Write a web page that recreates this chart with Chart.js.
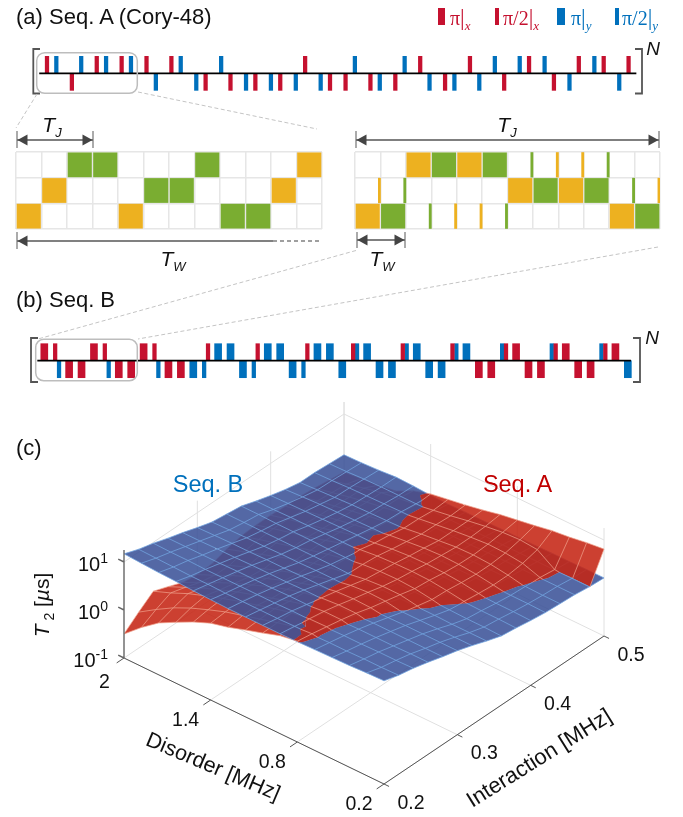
<!DOCTYPE html>
<html>
<head>
<meta charset="utf-8">
<script src="https://cdn.jsdelivr.net/npm/chart.js@4"></script>
<style>
html, body { margin: 0; padding: 0; background: #fff; }
#page { position: relative; width: 683px; height: 817px; overflow: hidden; font-family: "Liberation Sans", Arial, sans-serif; color: #111; }
#page canvas { position: absolute; }
#page svg { position: absolute; left: 0; top: 0; }
.lbl { position: absolute; white-space: nowrap; line-height: 1; }
.lbl sub, .lbl sup { line-height: 0; }
.sw { position: absolute; }
</style>
</head>
<body>
<div id="page">
  <canvas id="seq-a" width="683" height="47" style="left:0;top:50px"></canvas>
  <canvas id="grid-left" width="308" height="79" style="left:15px;top:151px"></canvas>
  <canvas id="grid-right" width="307" height="79" style="left:354px;top:151px"></canvas>
  <canvas id="seq-b" width="683" height="50" style="left:0;top:336px"></canvas>
  <canvas id="surface" width="683" height="417" style="left:0;top:400px"></canvas>
  <svg id="notes" width="683" height="817"></svg>
</div>
<script>
// pulse sequence A, time in units of tau/3
const seqATimes = [0,3,8,11,16,19,24,27,32,35,40,43,48,51,56,59,64,67,72,75,80,83,88,91,96,99,104,107,112,115,120,123,128,131,136,139,144,147,152,155,160,163,168,171,176,179,184,187]
const seqAAxes = 'xyxyxyxyxyxyyxyxyxyxyxyxxyxyxyxyxyxyyxyxyxyxyxyx'.split('')
const seqASigns = [1,1,-1,1,1,1,1,1,1,-1,1,1,-1,-1,1,-1,-1,-1,-1,-1,-1,1,-1,-1,-1,1,-1,-1,-1,1,1,-1,-1,-1,1,-1,1,-1,1,1,1,-1,-1,1,1,1,-1,1]

// pulse sequence B
const seqBTimes = [0,3.5,4.75,8,12,16,19.5,20.75,24,28,32,35.5,36.75,40,44,48,51.5,52.75,56,60,64,67.5,68.75,72,76,80,83.5,84.75,88,92,96,99.5,100.75,104,108,112,115.5,116.75,120,124,128,131.5,132.75,136,140,144,147.5,148.75,152,156,160,163.5,164.75,168,172,176,179.5,180.75,184,188]
const seqBAxes = ['xxyxx','xxyxx','xxyxx','yyxyy','yyxyy','yyxyy','yxyyy','yxyyy','yxyyx','xyxxx','xyxxx','xyxxy'].join('').split('')
const seqBSigns = [1,1,-1,-1,-1,1,1,-1,-1,-1,1,1,-1,-1,-1,-1,-1,1,1,1,-1,-1,1,1,1,-1,-1,1,1,1,-1,1,1,1,-1,-1,1,1,1,-1,-1,1,1,1,-1,-1,1,1,1,-1,-1,1,1,1,-1,-1,1,1,1,-1]
const seqBAngles = [180,90,90,180,180,180,90,90,180,180,180,90,90,180,180,180,90,90,180,180,180,90,90,180,180,180,90,90,180,180,180,90,90,180,180,180,90,90,180,180,180,90,90,180,180,180,90,90,180,180,180,90,90,180,180,180,90,90,180,180]

// toggling frames, [column, row]
const leftOrange = [[0,2],[1,1],[4,2],[10,1],[11,0]]
const leftGreen = [[2,0],[3,0],[5,1],[6,1],[7,0],[8,2],[9,2]]
const rightOrange = [[2,0],[4,0],[6,1],[8,1],[0,2],[10,2]]
const rightGreen = [[3,0],[5,0],[7,1],[9,1],[1,2],[11,2]]
const rightThinOrange = [[8,0],[9,0],[1,1],[12,1],[4,2],[5,2]]
const rightThinGreen = [[7,0],[10,0],[2,1],[11,1],[3,2],[6,2]]

// surface axes
const disorderGrid = [2,1.88,1.76,1.64,1.52,1.4,1.28,1.16,1.04,0.92,0.8,0.68,0.56,0.44,0.32,0.2]
const interactionGrid = [0.2,0.22,0.24,0.26,0.28,0.3,0.32,0.34,0.36,0.38,0.4,0.42,0.44,0.46,0.48,0.5]
const disorderTicks = [2,1.4,0.8,0.2]
const interactionTicks = [0.2,0.3,0.4,0.5]
const t2Ticks = [-1,0,1]

// log10(T2) for seq B, one row per interaction value, one column per disorder value
const seqBLog = [
  [1.17,1.15,1.13,1.12,1.10,1.09,1.08,1.08,1.08,1.08,1.09,1.10,1.11,1.12,1.14,1.15],
  [1.06,1.05,1.04,1.03,1.03,1.02,1.02,1.02,1.02,1.03,1.03,1.04,1.04,1.05,1.05,1.06],
  [.98,.97,.97,.96,.96,.96,.96,.96,.97,.97,.97,.98,.98,.99,.99,1.00],
  [.88,.88,.88,.88,.89,.89,.89,.90,.90,.90,.90,.91,.91,.91,.92,.92],
  [.79,.79,.80,.80,.81,.81,.81,.82,.82,.82,.82,.83,.83,.83,.83,.83],
  [.69,.70,.71,.71,.72,.72,.73,.73,.73,.74,.74,.74,.75,.75,.75,.75],
  [.60,.61,.62,.62,.63,.63,.64,.64,.64,.65,.65,.65,.65,.65,.65,.65],
  [.56,.56,.56,.56,.56,.56,.56,.55,.55,.55,.55,.55,.55,.54,.54,.54],
  [.52,.52,.51,.51,.51,.50,.50,.50,.49,.49,.48,.47,.46,.45,.45,.44],
  [.42,.42,.43,.43,.44,.44,.44,.44,.44,.44,.43,.43,.42,.41,.41,.40],
  [.33,.34,.35,.36,.37,.38,.38,.38,.38,.38,.38,.37,.37,.36,.36,.35],
  [.25,.27,.29,.30,.31,.32,.33,.33,.33,.33,.33,.33,.33,.32,.32,.31],
  [.19,.21,.23,.25,.26,.27,.28,.28,.29,.29,.29,.29,.30,.30,.29,.29],
  [.19,.20,.22,.23,.24,.25,.25,.26,.26,.26,.27,.27,.27,.27,.27,.27],
  [.17,.18,.20,.21,.21,.21,.22,.22,.22,.23,.23,.23,.23,.23,.23,.23],
  [.15,.16,.18,.21,.20,.18,.17,.18,.18,.19,.19,.19,.20,.20,.21,.21]
]
// log10(T2) for seq A, rows stop where the surface stops
const seqALog = [
  [-.50,-.19,.08,.27,.45,.60,.69,.81,.92,1.04,1.10,1.00,.95],
  [-.25,-.02,.19,.36,.50,.63,.73,.83,.93,1.02,1.05,1.00,.95],
  [-.02,.12,.28,.41,.53,.64,.74,.84,.93,.98,.99,.93,.88],
  [-.13,.03,.19,.33,.46,.57,.68,.79,.89,.93,.93,.86,.80],
  [-.25,-.07,.10,.26,.40,.54,.66,.76,.83,.86,.86,.79,.74],
  [-.29,-.13,.04,.19,.33,.46,.58,.69,.76,.78,.77,.72,.66],
  [-.27,-.13,.01,.15,.28,.40,.51,.61,.68,.71,.70,.64,.58],
  [-.17,-.05,.07,.19,.31,.41,.49,.54,.60,.63,.63,.57,.47,.40],
  [-.10,.00,.10,.20,.30,.39,.47,.53,.56,.57,.55,.50,.43,.36],
  [-.08,.02,.11,.20,.30,.41,.46,.50,.52,.53,.52,.48,.43,.36,.32],
  [-.08,.01,.09,.17,.27,.36,.39,.44,.47,.48,.47,.44,.39,.33,.28],
  [-.10,-.01,.07,.14,.21,.28,.35,.39,.43,.45,.44,.41,.36,.30,.25],
  [-.10,-.02,.05,.12,.18,.24,.29,.34,.38,.42,.43,.41,.36,.29,.24],
  [-.13,-.05,.03,.10,.16,.23,.28,.33,.38,.42,.45,.44,.40,.28,.22],
  [-.17,-.08,.01,.09,.15,.19,.25,.31,.38,.44,.49,.51,.48,.24,.20,.20],
  [-.21,-.17,-.13,-.08,.10,.21,.27,.33,.40,.48,.54,.60,.67,.71,.77,.81]
]

const RED = '#C5112F'
const BLUE = '#0070BC'
const GREEN = '#7AAD31'
const ORANGE = '#EDB120'

function pulseData(times, axes, signs, axis, angles, angle) {
    const out = []
    times.forEach((t, i) => {
        if (axes[i] === axis && (!angles || angles[i] === angle)) out.push({ x: t, y: signs[i] })
    })
    return out
}

function pulseChart(id, sets, xMin, xMax, yMin, yMax, lineFrom, lineTo) {
    const datasets = sets.map(s => ({
        type: 'bar', label: s.label, data: s.data, backgroundColor: s.color,
        barThickness: s.width, grouped: false, order: 1
    }))
    datasets.push({
        type: 'line', label: 'time', data: [{ x: lineFrom, y: 0 }, { x: lineTo, y: 0 }],
        borderColor: '#000', borderWidth: 1.8, pointRadius: 0, order: 0
    })
    return new Chart(document.getElementById(id), {
        type: 'bar',
        data: { datasets },
        options: {
            responsive: false, animation: false, events: [],
            layout: { padding: 0 },
            plugins: { legend: { display: false }, tooltip: { enabled: false } },
            scales: {
                x: { type: 'linear', display: false, min: xMin, max: xMax, offset: false, grid: { offset: false } },
                y: { type: 'linear', display: false, min: yMin, max: yMax }
            }
        }
    })
}

pulseChart('seq-a', [
    { label: 'π/2|x', color: RED, width: 3.6, data: pulseData(seqATimes, seqAAxes, seqASigns, 'x') },
    { label: 'π/2|y', color: BLUE, width: 3.6, data: pulseData(seqATimes, seqAAxes, seqASigns, 'y') }
], -15.11, 204.5, -1.39, 1.37, -2.5, 189.5)

pulseChart('seq-b', [
    { label: 'π|x', color: RED, width: 7, data: pulseData(seqBTimes, seqBAxes, seqBSigns, 'x', seqBAngles, 180) },
    { label: 'π/2|x', color: RED, width: 3.6, data: pulseData(seqBTimes, seqBAxes, seqBSigns, 'x', seqBAngles, 90) },
    { label: 'π|y', color: BLUE, width: 7, data: pulseData(seqBTimes, seqBAxes, seqBSigns, 'y', seqBAngles, 180) },
    { label: 'π/2|y', color: BLUE, width: 3.6, data: pulseData(seqBTimes, seqBAxes, seqBSigns, 'y', seqBAngles, 90) }
], -14.27, 205.77, -1.488, 1.453, -2.25, 189)

function cellData(cells) {
    return cells.map(c => ({ x: c[0] + 0.5, y: [c[1] + 0.03, c[1] + 0.97] }))
}
function thinData(cells) {
    return cells.map(c => ({ x: c[0] - 0.04, y: [c[1] + 0.02, c[1] + 0.98] }))
}

function gridChart(id, orange, green, thinOrange, thinGreen) {
    const sets = [
        { label: 'orange', data: cellData(orange), backgroundColor: ORANGE, barThickness: 23.5, grouped: false },
        { label: 'green', data: cellData(green), backgroundColor: GREEN, barThickness: 23.5, grouped: false }
    ]
    if (thinOrange) {
        sets.push({ label: 'orange short', data: thinData(thinOrange), backgroundColor: ORANGE, barThickness: 2.2, grouped: false })
        sets.push({ label: 'green short', data: thinData(thinGreen), backgroundColor: GREEN, barThickness: 2.2, grouped: false })
    }
    const hiddenAxis = { display: true, ticks: { display: false, stepSize: 1 }, border: { display: false } }
    return new Chart(document.getElementById(id), {
        type: 'bar',
        data: { datasets: sets },
        options: {
            responsive: false, animation: false, events: [],
            layout: { padding: 1 },
            plugins: { legend: { display: false }, tooltip: { enabled: false } },
            scales: {
                x: { ...hiddenAxis, type: 'linear', min: 0, max: 12, offset: false, grid: { offset: false, color: '#E6E6E6', lineWidth: 1.5, drawTicks: false } },
                y: { ...hiddenAxis, type: 'linear', min: 0, max: 3, reverse: true, grid: { color: '#E6E6E6', lineWidth: 1.5, drawTicks: false } }
            }
        }
    })
}
gridChart('grid-left', leftOrange, leftGreen)
gridChart('grid-right', rightOrange, rightGreen, rightThinOrange, rightThinGreen)

// ---------- 3D surface, projected into a flat scatter chart ----------
const Z_TOP = 1.25
function proj(d, i, z) {
    const u = (2 - d) / 1.8
    const v = (i - 0.2) / 0.3
    return { x: 124 + 260 * u + 220 * v, y: 658 + 126 * u - 148 * v - 48 * (z + 1) }
}

function vertex(j, k) {
    const a = seqALog[k][j]
    return { d: disorderGrid[j], i: interactionGrid[k], a: a === undefined ? null : a, b: seqBLog[k][j] }
}
function mix(p, q, t) {
    return { d: p.d + (q.d - p.d) * t, i: p.i + (q.i - p.i) * t, a: p.a + (q.a - p.a) * t, b: p.b + (q.b - p.b) * t }
}
// keep the part of a polygon where seq A is above (sign 1) or below (sign -1) seq B
function clip(poly, sign) {
    const out = []
    poly.forEach((p, n) => {
        const q = poly[(n + 1) % poly.length]
        const sp = (p.a - p.b) * sign
        const sq = (q.a - q.b) * sign
        if (sp >= 0) out.push(p)
        if ((sp > 0 && sq < 0) || (sp < 0 && sq > 0)) out.push(mix(p, q, sp / (sp - sq)))
    })
    return out
}
function flat(poly, key) {
    let pts = poly.map(p => proj(p.d, p.i, p[key]))
    let area = 0
    pts.forEach((p, n) => {
        const q = pts[(n + 1) % pts.length]
        area += p.x * q.y - q.x * p.y
    })
    if (area < 0) pts = pts.reverse()
    return pts
}

const polys = { upA: [], upB: [], lowA: [], lowB: [] }
const mesh = { upA: [], upB: [], lowA: [], lowB: [] }
const firstUp = seqALog.map((row, k) => row.findIndex((a, j) => a > seqBLog[k][j]))

function addSegment(list, p, q, key) {
    const s = proj(p.d, p.i, p[key])
    const e = proj(q.d, q.i, q[key])
    list.push(s, e, { x: NaN, y: NaN })
}
function addEdge(p, q, lowAOk) {
    if (p.a === null || q.a === null) {
        addSegment(mesh.upB, p, q, 'b')
        return
    }
    const sp = p.a - p.b
    const sq = q.a - q.b
    let parts = [[p, q]]
    if (sp * sq < 0) {
        const c = mix(p, q, sp / (sp - sq))
        parts = [[p, c], [c, q]]
    }
    parts.forEach(([m, n]) => {
        const above = (m.a - m.b) + (n.a - n.b) > 0
        if (above) {
            addSegment(mesh.upA, m, n, 'a')
            addSegment(mesh.lowB, m, n, 'b')
        } else {
            addSegment(mesh.upB, m, n, 'b')
            if (lowAOk) addSegment(mesh.lowA, m, n, 'a')
        }
    })
}

for (let k = 0; k < interactionGrid.length; k++) {
    for (let j = 0; j < disorderGrid.length; j++) {
        const v00 = vertex(j, k)
        if (j + 1 < disorderGrid.length) addEdge(v00, vertex(j + 1, k), j < firstUp[k])
        if (k + 1 < interactionGrid.length) addEdge(v00, vertex(j, k + 1), j <= Math.max(firstUp[k], firstUp[k + 1]))
        if (j + 1 === disorderGrid.length || k + 1 === interactionGrid.length) continue

        const v10 = vertex(j + 1, k)
        const v11 = vertex(j + 1, k + 1)
        const v01 = vertex(j, k + 1)
        if ([v00, v10, v11, v01].some(p => p.a === null)) {
            polys.upB.push(flat([v00, v10, v11, v01], 'b'))
            continue
        }
        const lowAOk = j < Math.max(firstUp[k], firstUp[k + 1])
        ;[[v00, v10, v11], [v00, v11, v01]].forEach(tri => {
            const over = clip(tri, 1)
            const under = clip(tri, -1)
            if (over.length > 2) {
                polys.upA.push(flat(over, 'a'))
                polys.lowB.push(flat(over, 'b'))
            }
            if (under.length > 2) {
                polys.upB.push(flat(under, 'b'))
                if (lowAOk) polys.lowA.push(flat(under, 'a'))
            }
        })
    }
}

// all polygons of one surface go in one closed path, so the fill has no seams
function chain(list) {
    const out = []
    list.forEach(poly => {
        poly.forEach(p => out.push(p))
        out.push(poly[0])
    })
    for (let n = list.length - 2; n >= 0; n--) out.push(list[n][0])
    return out
}

function fillSet(label, pts, color) {
    return { label, data: pts, showLine: true, fill: 'shape', backgroundColor: color, borderWidth: 0, pointRadius: 0 }
}
function lineSet(label, pts, color, width) {
    return { label, data: pts, showLine: true, fill: false, borderColor: color, borderWidth: width, pointRadius: 0, spanGaps: false }
}

function boxLines() {
    const back = []
    const seg = (a, b) => back.push(proj(...a), proj(...b), { x: NaN, y: NaN })
    disorderTicks.forEach(d => {
        seg([d, 0.2, -1], [d, 0.5, -1])
        seg([d, 0.5, -1], [d, 0.5, Z_TOP])
    })
    interactionTicks.forEach(i => {
        seg([2, i, -1], [0.2, i, -1])
        if (i > 0.2) seg([2, i, -1], [2, i, Z_TOP])
    })
    seg([2, 0.2, 1], [2, 0.5, 1])
    seg([2, 0.5, 1], [0.2, 0.5, 1])
    return back
}
function axisLines() {
    const ax = []
    const seg = (a, b) => ax.push(proj(...a), proj(...b), { x: NaN, y: NaN })
    seg([2, 0.2, -1], [0.2, 0.2, -1])
    seg([0.2, 0.2, -1], [0.2, 0.5, -1])
    disorderTicks.forEach(d => seg([d, 0.2, -1], [d, 0.19, -1]))
    interactionTicks.forEach(i => seg([0.2, i, -1], [0.165, i, -1]))
    return ax
}
function zAxisLine() {
    const ax = [proj(2, 0.2, -1), proj(2, 0.2, Z_TOP), { x: NaN, y: NaN }]
    t2Ticks.forEach(z => ax.push(proj(2, 0.2, z), proj(2.04, 0.2, z), { x: NaN, y: NaN }))
    return ax
}

const SURF_A = 'rgba(197,38,20,0.88)'
const SURF_B = 'rgba(60,83,153,0.88)'
const MESH_A = 'rgba(240,160,140,0.8)'
const MESH_B = 'rgba(115,165,225,0.85)'

// painted in this order, the chart paints its datasets last to first
const paintOrder = [
    lineSet('box', boxLines(), '#E0E0E0', 1),
    fillSet('seq B lower', chain(polys.lowB), SURF_B),
    fillSet('seq A lower', chain(polys.lowA), SURF_A),
    lineSet('seq B lower mesh', mesh.lowB, MESH_B, 0.9),
    lineSet('seq A lower mesh', mesh.lowA, MESH_A, 0.9),
    fillSet('seq B upper', chain(polys.upB), SURF_B),
    fillSet('seq A upper', chain(polys.upA), SURF_A),
    lineSet('seq B upper mesh', mesh.upB, MESH_B, 0.9),
    lineSet('seq A upper mesh', mesh.upA, MESH_A, 0.9),
    lineSet('floor axes', axisLines(), '#555', 1),
    lineSet('T2 axis', zAxisLine(), '#666', 1.4)
]

const surfaceChart = new Chart(document.getElementById('surface'), {
    type: 'scatter',
    data: { datasets: paintOrder.slice().reverse() },
    options: {
        responsive: false, animation: false, events: [],
        layout: { padding: 0 },
        plugins: { legend: { display: false }, tooltip: { enabled: false } },
        scales: {
            x: { type: 'linear', display: false, min: 0, max: 683 },
            y: { type: 'linear', display: false, min: 400, max: 817, reverse: true }
        }
    }
})

// ---------- text ----------
const page = document.getElementById('page')
function label(html, x, y, o) {
    o = o || {}
    const el = document.createElement('div')
    el.className = 'lbl'
    el.innerHTML = html
    el.style.left = x + 'px'
    el.style.top = y + 'px'
    el.style.fontSize = (o.size || 20) + 'px'
    if (o.color) el.style.color = o.color
    if (o.font) el.style.fontFamily = o.font
    const ax = o.anchor === 'left' ? '0' : (o.anchor === 'right' ? '-100%' : '-50%')
    el.style.transform = 'translate(' + ax + ',-50%)' + (o.rot ? ' rotate(' + o.rot + 'deg)' : '')
    page.appendChild(el)
}
function swatch(x, y, w, h, color) {
    const el = document.createElement('div')
    el.className = 'sw'
    el.style.cssText = 'left:' + x + 'px;top:' + y + 'px;width:' + w + 'px;height:' + h + 'px;background:' + color
    page.appendChild(el)
}

label('(a) Seq. A (Cory-48)', 16, 17, { size: 22, anchor: 'left' })
label('(b) Seq. B', 16, 300, { size: 22, anchor: 'left' })
label('(c)', 16, 448, { size: 22, anchor: 'left' })

const SERIF = '"Liberation Serif", serif'
function pulseName(name, sub, color) {
    return '<span style="color:' + color + '">' + name + '<span style="font-size:23px">|</span><i style="font-size:13px;position:relative;top:5px">' + sub + '</i></span>'
}
swatch(437.7, 8.3, 7.6, 17, RED)
label(pulseName('π', 'x', RED), 450, 17, { size: 20, anchor: 'left', font: SERIF })
swatch(495, 8.3, 3.6, 17, RED)
label(pulseName('π/2', 'x', RED), 503, 17, { size: 20, anchor: 'left', font: SERIF })
swatch(557, 8.3, 7.6, 17, BLUE)
label(pulseName('π', 'y', BLUE), 571, 17, { size: 20, anchor: 'left', font: SERIF })
swatch(615, 8.3, 3.6, 17, BLUE)
label(pulseName('π/2', 'y', BLUE), 622, 17, { size: 20, anchor: 'left', font: SERIF })

label('<i>N</i>', 653, 48, { size: 19 })
label('<i>N</i>', 652, 337, { size: 19 })

function tLabel(sub) {
    return '<i>T</i><i style="font-size:13px;position:relative;top:5px">' + sub + '</i>'
}
label(tLabel('J'), 52, 124, { size: 21 })
label(tLabel('W'), 173, 258, { size: 21 })
label(tLabel('J'), 507, 124, { size: 21 })
label(tLabel('W'), 382, 258, { size: 21 })

label('Seq. B', 208, 485, { size: 23.5, color: '#0070BC' })
label('Seq. A', 517.5, 485, { size: 23.5, color: '#C00000' })

const sx = surfaceChart.scales.x
const sy = surfaceChart.scales.y
function pagePos(p) {
    return { x: sx.getPixelForValue(p.x), y: sy.getPixelForValue(p.y) + 400 }
}
t2Ticks.forEach(z => {
    const p = pagePos(proj(2, 0.2, z))
    label('10<sup style="font-size:14px">' + z + '</sup>', p.x - 16, p.y + 2, { size: 20, anchor: 'right' })
})
disorderTicks.forEach((d, n) => {
    const p = pagePos(proj(d, 0.2, -1))
    label(String(d), p.x + (n === 0 ? -19.5 : -25), p.y + (n === 0 ? 24 : 20), { size: 19.5 })
})
interactionTicks.forEach(i => {
    const p = pagePos(proj(0.2, i, -1))
    label(String(i), p.x + 27, p.y + 18.5, { size: 19.5 })
})
label('<i>T</i><sub style="font-size:14px"> 2</sub> [<i>µ</i>s]', 41, 605, { size: 21, rot: -90 })
label('Disorder [MHz]', 213, 767, { size: 21.5, rot: 23 })
label('Interaction [MHz]', 539, 758, { size: 22, rot: -32 })

// ---------- brackets, zoom boxes, arrows ----------
function arrowHead(x, y, dir) {
    return '<polygon points="' + x + ',' + y + ' ' + (x + 10 * dir) + ',' + (y - 5.5) + ' ' + (x + 10 * dir) + ',' + (y + 5.5) + '" fill="#444"/>'
}
function tick(x, y1, y2) {
    return '<line x1="' + x + '" x2="' + x + '" y1="' + y1 + '" y2="' + y2 + '" stroke="#666" stroke-width="1.1"/>'
}
let notes = ''
notes += '<g fill="none" stroke="#555" stroke-width="1.8">'
notes += '<path d="M40,49 H33.3 V93.5 H40"/><path d="M635,49 H642 V93.5 H635"/>'
notes += '<path d="M38,338 H31 V382 H38"/><path d="M633,338 H640 V382 H633"/></g>'
notes += '<g fill="none" stroke="#BDBDBD" stroke-width="1.5">'
notes += '<rect x="36.7" y="52.7" width="100.6" height="40.6" rx="8"/>'
notes += '<rect x="35.7" y="339.3" width="101.6" height="41.4" rx="8"/></g>'
notes += '<g stroke="#C4C4C4" stroke-width="1" stroke-dasharray="4 2.5">'
notes += '<line x1="37" y1="94" x2="16" y2="128"/><line x1="138" y1="92" x2="317" y2="129"/>'
notes += '<line x1="356" y1="250.5" x2="38" y2="339"/><line x1="658" y1="247" x2="138" y2="339"/></g>'
notes += '<g stroke="#555" stroke-width="1.5">'
notes += '<line x1="17" x2="93" y1="140" y2="140"/><line x1="356" x2="659" y1="140" y2="140"/>'
notes += '<line x1="357" x2="405" y1="240" y2="240"/></g>'
notes += '<line x1="17" x2="273" y1="241" y2="241" stroke="#808080" stroke-width="2"/>'
notes += '<line x1="273" x2="320" y1="241" y2="241" stroke="#808080" stroke-width="1.5" stroke-dasharray="4 3"/>'
notes += tick(17, 131, 148) + tick(93, 131, 148) + tick(356, 131, 148) + tick(659, 131, 148)
notes += tick(17, 232, 249) + tick(357, 232, 248) + tick(405, 232, 248)
notes += arrowHead(17.5, 140, 1) + arrowHead(92.5, 140, -1) + arrowHead(356.5, 140, 1) + arrowHead(658.5, 140, -1)
notes += arrowHead(17.5, 241, 1) + arrowHead(357.5, 240, 1) + arrowHead(404.5, 240, -1)
document.getElementById('notes').innerHTML = notes
</script>
</body>
</html>
